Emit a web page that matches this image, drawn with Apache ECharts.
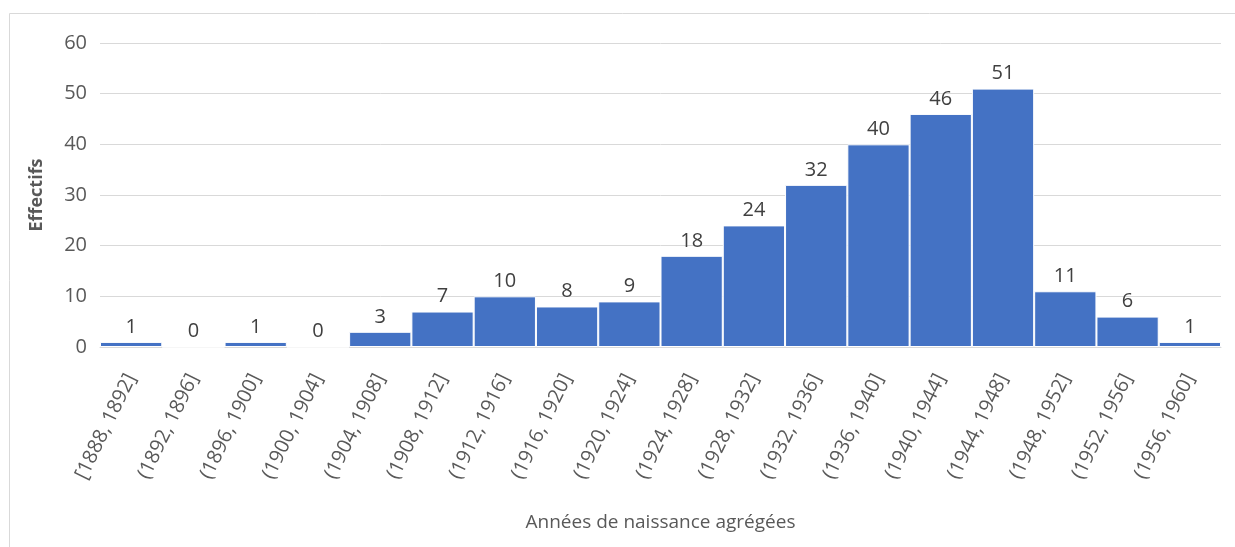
<!DOCTYPE html>
<html lang="fr">
  <head>
    <meta charset="UTF-8" />
    <title>Années de naissance agrégées</title>
    <script src="https://cdnjs.cloudflare.com/ajax/libs/echarts/6.0.0/echarts.min.js"></script>
    <style>
      html, body { margin: 0; padding: 0; background: #fff; }
      #chart { width: 1235px; height: 547px; }
    </style>
  </head>
  <body>
    <div id="chart"></div>
    <script>
      // classes d'années
      const categories = [
        "[1888, 1892]", "(1892, 1896]", "(1896, 1900]", "(1900, 1904]",
        "(1904, 1908]", "(1908, 1912]", "(1912, 1916]", "(1916, 1920]",
        "(1920, 1924]", "(1924, 1928]", "(1928, 1932]", "(1932, 1936]",
        "(1936, 1940]", "(1940, 1944]", "(1944, 1948]", "(1948, 1952]",
        "(1952, 1956]", "(1956, 1960]"
      ];
      // effectifs
      const counts = [1, 0, 1, 0, 3, 7, 10, 8, 9, 18, 24, 32, 40, 46, 51, 11, 6, 1];
      const yTicks = [0, 10, 20, 30, 40, 50, 60];

      const font = "'Open Sans', 'Noto Sans', sans-serif";
      const chart = echarts.init(document.getElementById("chart"));

      chart.setOption({
        animation: false,
        textStyle: { fontFamily: font },
        graphic: [
          {
            type: "rect",
            shape: { x: 9.5, y: 13.5, width: 1300, height: 600 },
            style: { fill: "none", stroke: "#d9d9d9", lineWidth: 1 },
            silent: true
          }
        ],
        grid: { left: 100, right: 14, top: 43, bottom: 200 },
        xAxis: {
          type: "category",
          data: categories,
          name: "Années de naissance agrégées",
          nameLocation: "middle",
          nameGap: 166,
          nameTextStyle: { color: "#595959", fontSize: 19, fontFamily: font },
          axisLine: { lineStyle: { color: "#d9d9d9", width: 1 } },
          axisTick: { show: false },
          axisLabel: {
            interval: 0,
            rotate: 64,
            color: "#595959",
            fontSize: 20,
            fontFamily: font,
            margin: 28
          }
        },
        yAxis: {
          type: "value",
          min: yTicks[0],
          max: yTicks[yTicks.length - 1],
          interval: 10,
          name: "Effectifs",
          nameLocation: "middle",
          nameRotate: 90,
          nameGap: 54,
          nameTextStyle: { color: "#595959", fontSize: 18, fontWeight: "bold", fontFamily: font },
          axisLine: { show: false },
          axisTick: { show: false },
          axisLabel: { color: "#595959", fontSize: 20, fontFamily: font, margin: 13 },
          splitLine: { lineStyle: { color: "#d9d9d9", width: 1 } }
        },
        series: [
          {
            type: "bar",
            data: counts,
            barCategoryGap: "0%",
            itemStyle: { color: "#4472c4", borderColor: "#ffffff", borderWidth: 1 },
            label: {
              show: true,
              position: "top",
              distance: 5,
              color: "#404040",
              fontSize: 20,
              fontFamily: font
            }
          }
        ]
      });
    </script>
  </body>
</html>
